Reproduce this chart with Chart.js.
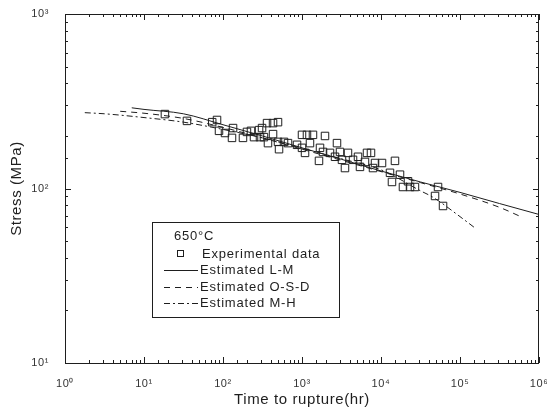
<!DOCTYPE html>
<html>
<head>
<meta charset="utf-8">
<script src="https://cdn.jsdelivr.net/npm/chart.js@4.4.1/dist/chart.umd.min.js"></script>
<style>
  html, body { margin: 0; padding: 0; background: #fff; }
</style>
</head>
<body>
<canvas id="chart" width="547" height="415"></canvas>
<script>
// experimental creep rupture data, 650 C
const expTime = [18.4, 35, 73, 84, 89, 106, 134, 130, 179, 201, 226, 286, 294, 247, 330, 361, 430, 497, 312, 430,
   371, 497, 512, 592, 665, 1000, 1156, 1377, 1955, 865, 1000, 1092, 1262, 1690, 1641, 1845, 2773, 2261, 2618, 3027,
   3820, 3207, 3500, 4424, 5117, 5420, 6268, 6650, 7470, 8400, 10300, 7920, 15030, 13000, 17400, 21970, 13770, 18970,
   23300, 26900, 52700, 48300, 61000];
const expStress = [267, 244, 240, 247, 214, 208, 222, 195, 195, 211, 214, 216, 197, 197, 197, 237, 237, 240, 222, 205,
   182, 185, 168, 185, 182, 203, 203, 203, 200, 178, 171, 160, 182, 171, 144, 162, 182, 160, 152, 162,
   160, 146, 131, 146, 152, 133, 142, 160, 160, 140, 140, 131, 144, 123, 120, 110, 109, 102,
   102, 102, 102, 90.6, 79.4];

// estimated curves
const lmTime = [7, 10, 31.6, 100, 316, 1000, 3162, 10000, 31623, 100000, 316228, 1000000];
const lmStress = [290, 284, 268, 232, 200, 171, 147, 126, 109, 95, 82, 71];
const osdTime = [5, 10, 31.6, 100, 316, 1000, 3162, 10000, 31623, 100000, 316228, 631000];
const osdStress = [277, 270, 252, 224, 195, 168, 145, 125, 108, 93, 78, 68];
const mhTime = [1.78, 3.16, 10, 31.6, 100, 316, 1000, 3162, 10000, 31623, 45700, 100000, 158000];
const mhStress = [272, 268, 255, 240, 218, 195, 170, 148, 128, 97, 89, 69, 59];

const legendTitle = "650°C";
const seriesNames = ["Experimental data", "Estimated L-M", "Estimated O-S-D", "Estimated M-H"];
const supDigits = ["⁰", "¹", "²", "³", "⁴", "⁵", "⁶"];

const INK = "#1e1e1e";
const DASH_OSD = [6, 5];
const DASH_MH = [6, 3, 2, 3];

const isPow = (v) => {
   const p = Math.log10(v);
   return Math.abs(p - Math.round(p)) < 1e-6;
};
const powLabel = (v) => (isPow(v) ? "10" + supDigits[Math.round(Math.log10(v))] : "");
const pts = (xs, ys) => xs.map((x, i) => ({ x: x, y: ys[i] }));

// inward ticks on all four sides + frame
const frameTicks = {
   id: "frameTicks",
   afterDraw(chart) {
      const { ctx, chartArea: a, scales } = chart;
      const x = scales.x, y = scales.y;
      ctx.save();
      ctx.strokeStyle = INK;
      ctx.lineWidth = 1;
      ctx.setLineDash([]);
      ctx.strokeRect(a.left + 0.5, a.top + 0.5, a.right - a.left - 1, a.bottom - a.top);
      ctx.beginPath();
      x.ticks.forEach((t) => {
         const px = Math.round(x.getPixelForValue(t.value)) + 0.5;
         const len = isPow(t.value) ? 6 : 3;
         ctx.moveTo(px, a.bottom);
         ctx.lineTo(px, a.bottom - len);
         ctx.moveTo(px, a.top);
         ctx.lineTo(px, a.top + len);
      });
      y.ticks.forEach((t) => {
         const py = Math.round(y.getPixelForValue(t.value)) + 0.5;
         const len = isPow(t.value) ? 6 : 3;
         ctx.moveTo(a.left, py);
         ctx.lineTo(a.left + len, py);
         ctx.moveTo(a.right, py);
         ctx.lineTo(a.right - len, py);
      });
      ctx.stroke();
      ctx.restore();
   },
};

// boxed legend inside the plot
const boxLegend = {
   id: "boxLegend",
   afterDraw(chart) {
      const ctx = chart.ctx;
      const bx = 152, by = 222, bw = 187, bh = 95;
      ctx.save();
      ctx.strokeStyle = INK;
      ctx.lineWidth = 1;
      ctx.fillStyle = "#fff";
      ctx.fillRect(bx, by, bw, bh);
      ctx.strokeRect(bx + 0.5, by + 0.5, bw, bh);

      ctx.fillStyle = INK;
      ctx.font = "13px 'Liberation Sans', Arial, sans-serif";
      ctx.letterSpacing = "0.8px";
      ctx.textBaseline = "middle";
      ctx.fillText(legendTitle, 174, 236);

      const rows = [254, 270, 287, 303];
      // marker
      ctx.strokeRect(177.5, rows[0] - 3.5, 6, 6);
      // line samples
      const samples = [[], DASH_OSD, DASH_MH];
      samples.forEach((d, i) => {
         ctx.beginPath();
         ctx.setLineDash(d);
         ctx.moveTo(164, rows[i + 1] + 0.5);
         ctx.lineTo(198, rows[i + 1] + 0.5);
         ctx.stroke();
      });
      ctx.setLineDash([]);
      seriesNames.forEach((n, i) => ctx.fillText(n, i === 0 ? 202 : 200, rows[i]));
      ctx.restore();
   },
};

const lineSet = (label, xs, ys, dash) => ({
   label: label,
   data: pts(xs, ys),
   showLine: true,
   borderColor: INK,
   borderWidth: 1,
   borderDash: dash,
   pointRadius: 0,
   fill: false,
   cubicInterpolationMode: "monotone",
});

const ctx = document.getElementById("chart").getContext("2d");

new Chart(ctx, {
   type: "scatter",
   data: {
      datasets: [
         {
            label: seriesNames[0],
            data: pts(expTime, expStress),
            pointStyle: "rect",
            pointRadius: 5.3,
            pointBorderWidth: 1,
            borderColor: INK,
            backgroundColor: "rgba(0,0,0,0)",
         },
         lineSet(seriesNames[1], lmTime, lmStress, []),
         lineSet(seriesNames[2], osdTime, osdStress, DASH_OSD),
         lineSet(seriesNames[3], mhTime, mhStress, DASH_MH),
      ],
   },
   options: {
      responsive: false,
      animation: false,
      layout: { padding: { left: 0, right: 8, top: 14, bottom: 0 } },
      plugins: {
         legend: { display: false },
         tooltip: { enabled: false },
      },
      scales: {
         x: {
            type: "logarithmic",
            min: 1,
            max: 1000000,
            grid: { display: false },
            border: { display: false },
            ticks: {
               autoSkip: false,
               maxRotation: 0,
               padding: 6,
               color: "#333",
               font: { size: 11, family: "'Liberation Sans', Arial, sans-serif" },
               callback: (v) => powLabel(v),
            },
            title: {
               display: true,
               text: "Time to rupture(hr)",
               color: INK,
               font: { size: 15, family: "'Liberation Sans', Arial, sans-serif" },
               padding: { top: 0, bottom: 6 },
            },
            afterFit: (s) => {
               s.height = 52;
               s.paddingLeft = 0;
               s.paddingRight = 0;
            },
         },
         y: {
            type: "logarithmic",
            min: 10,
            max: 1000,
            grid: { display: false },
            border: { display: false },
            ticks: {
               autoSkip: false,
               padding: 8,
               color: "#333",
               font: { size: 11, family: "'Liberation Sans', Arial, sans-serif" },
               callback: (v) => powLabel(v),
            },
            title: {
               display: true,
               text: "Stress (MPa)",
               color: INK,
               font: { size: 15, family: "'Liberation Sans', Arial, sans-serif" },
               padding: { top: 8, bottom: 0 },
            },
            afterFit: (s) => {
               s.width = 65;
               s.paddingTop = 0;
               s.paddingBottom = 0;
            },
         },
      },
   },
   plugins: [
      {
         id: "spacing",
         beforeDraw(chart) {
            chart.ctx.letterSpacing = "0.6px";
         },
      },
      frameTicks,
      boxLegend,
   ],
});
</script>
</body>
</html>
